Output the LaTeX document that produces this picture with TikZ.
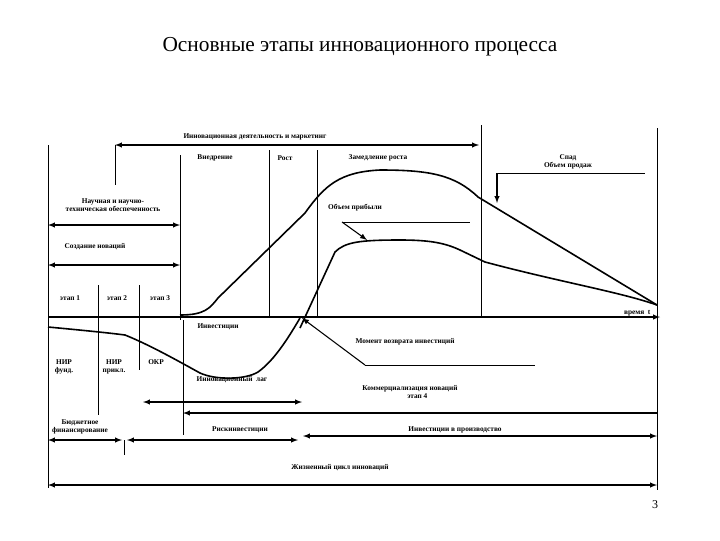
\documentclass[tikz,border=0pt]{standalone}
\usepackage{fontspec}
\setmainfont{Liberation Serif}
\begin{document}
\begin{tikzpicture}[x=0.75pt,y=-0.75pt,
  lbl/.style={font=\fontsize{5.5}{6.5}\selectfont\bfseries,inner sep=1pt,align=center},
  ln/.style={line width=0.5pt},
  crv/.style={line width=1.2pt},
  ar/.style={line width=0.8pt,-latex},
  dar/.style={line width=0.8pt,latex-latex}]
\useasboundingbox (0,0) rectangle (720,540);
\node[font=\fontsize{16}{18}\selectfont] (title) at (360,47) {Основные этапы инновационного процесса};
\node[font=\fontsize{9}{10}\selectfont] (pg) at (655,505) {3};
% verticals
\draw[ln] (48,145) -- (48,488);
\draw[ln] (98,285) -- (98,415);
\draw[ln] (139,285) -- (139,370);
\draw[ln] (180,155) -- (180,320);
\draw[ln] (183,320) -- (183,435);
\draw[ln] (269,150) -- (269,317);
\draw[ln] (317,150) -- (317,317);
\draw[ln] (481,125) -- (481,317);
\draw[ln] (657,128) -- (657,490);
\draw[ln] (115,145) -- (115,185);
% axis
\coordinate (ax0) at (48,317); \coordinate (ax1) at (660,317);
\draw[ar] (ax0) -- (ax1);
\node[lbl,anchor=south east] (t) at (652,318) {время \ t};
% top arrow
\coordinate (ta0) at (115,145); \coordinate (ta1) at (479,145);
\draw[line width=0.8pt,latex-latex] (ta0) -- (ta1);
\node[lbl] (ida) at (255,137) {Инновационная деятельность и маркетинг};
\node[lbl] (vn) at (215,158) {Внедрение};
\node[lbl] (rost) at (285,158) {Рост};
\node[lbl] (zr) at (378,158) {Замедление роста};
\node[lbl] (spad) at (568,162) {Спад\\Объем продаж};
\node[lbl] (nto) at (113,205) {Научная и научно-\\техническая обеспеченность};
\draw[dar] (48,225) -- (180,225);
\node[lbl] (sn) at (95,247) {Создание новаций};
\draw[dar] (48,265) -- (180,265);
\node[lbl] (e1) at (70,298) {этап 1};
\node[lbl] (e2) at (117,298) {этап 2};
\node[lbl] (e3) at (160,298) {этап 3};
% sales curve
\draw[crv] (180,315) .. controls (205,315) and (210,308) .. (218,298)
  -- (305,213) .. controls (325,185) and (340,172) .. (380,170)
  .. controls (430,170) and (455,175) .. (478,197) -- (657,305);
% profit curve
\draw[crv] (300,328) -- (335,252) .. controls (345,242) and (360,240) .. (400,240)
  .. controls (430,240) and (445,243) .. (460,250) -- (485,262)
  .. controls (560,282) and (620,292) .. (657,305);
% investment curve
\draw[crv] (48,327) .. controls (80,330) and (110,333) .. (125,335)
  .. controls (150,345) and (180,362) .. (200,373)
  .. controls (215,380) and (245,380) .. (258,372)
  .. controls (275,360) and (290,335) .. (300,318);
% leaders
\coordinate (sl0) at (497,173); \coordinate (sl1) at (645,173); \coordinate (sl2) at (497,203);
\draw[ln] (sl0) -- (sl1); \draw[ar] (sl0) -- (sl2);
\node[lbl] (op) at (355,208) {Объем прибыли};
\coordinate (pl0) at (342,222); \coordinate (pl1) at (470,222); \coordinate (pl2) at (367,240);
\draw[ln] (pl0) -- (pl1); \draw[ar] (pl0) -- (pl2);
\node[lbl] (inv) at (218,327) {Инвестиции};
\node[lbl] (mv) at (405,342) {Момент возврата инвестиций};
\coordinate (ml0) at (365,365); \coordinate (ml1) at (535,365); \coordinate (ml2) at (302,318);
\draw[ln] (ml0) -- (ml1); \draw[ar] (ml0) -- (ml2);
\node[lbl] (nf) at (64,367) {НИР\\фунд.};
\node[lbl] (np) at (114,367) {НИР\\прикл.};
\node[lbl,anchor=north] (okr) at (156,358) {ОКР};
\node[lbl] (lag) at (232,380) {Инновационный \ лаг};
\draw[dar] (143,402) -- (302,402);
\node[lbl] (kom) at (410,392) {Коммерциализация новаций\\\hspace{2em}этап 4};
\draw[line width=0.8pt,latex-] (183,413) -- (657,413);
\node[lbl] (bf) at (80,427) {Бюджетное\\финансирование};
\draw[dar] (48,440) -- (122,440);
\draw[dar] (127,440) -- (298,440);
\draw[ln] (124,440) -- (124,455);
\node[lbl] (ri) at (240,430) {Рискинвестиции};
\draw[dar] (303,436) -- (657,436);
\node[lbl] (ip) at (455,430) {Инвестиции в производство};
\node[lbl] (zc) at (340,468) {Жизненный цикл инноваций};
\draw[dar] (48,485) -- (657,485);
\end{tikzpicture}
\end{document}
